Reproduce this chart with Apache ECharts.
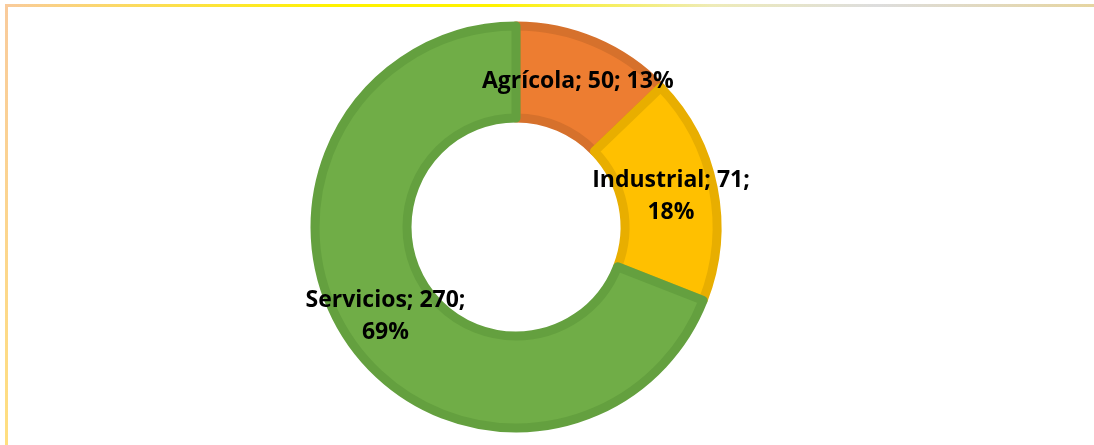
<!doctype html>
<html>
<head>
<meta charset="utf-8">
<title>Sectores</title>
<script src="https://cdn.jsdelivr.net/npm/echarts@6/dist/echarts.min.js"></script>
<style>
  html, body { margin: 0; padding: 0; background: #fff; }
</style>
</head>
<body>
<div id="JS_chart" style="width:1094px;height:445px;"></div>
<script type="text/javascript">
var sectores = ['Agrícola', 'Industrial', 'Servicios'];
var valores = [50, 71, 270];
var rellenos = ['#ED7D31', '#FFC000', '#70AD47'];
var bordes = ['#D6712C', '#E8AE00', '#64A03F'];
// separador entre valor y porcentaje (la etiqueta se parte en dos líneas)
var separadores = [' ', '\n', '\n'];

var myChart = echarts.init(document.getElementById('JS_chart'));

var option = {
    animation: false,
    graphic: [
        {
            type: 'rect',
            shape: { x: 5, y: 4, width: 1089, height: 3 },
            style: {
                fill: new echarts.graphic.LinearGradient(0, 0, 1, 0, [
                    { offset: 0, color: '#F9CB9C' },
                    { offset: 0.3, color: '#FFF200' },
                    { offset: 0.45, color: '#FFF200' },
                    { offset: 0.65, color: '#EEEBB8' },
                    { offset: 0.8, color: '#DDDDDD' },
                    { offset: 1, color: '#E6D5A0' }
                ])
            },
            silent: true
        },
        {
            type: 'rect',
            shape: { x: 5, y: 4, width: 3, height: 441 },
            style: {
                fill: new echarts.graphic.LinearGradient(0, 0, 0, 1, [
                    { offset: 0, color: '#F9CB9C' },
                    { offset: 1, color: '#FFDF80' }
                ])
            },
            silent: true
        }
    ],
    series: [
        {
            type: 'pie',
            center: [516, 227],
            radius: [109, 201],
            startAngle: 90,
            clockwise: true,
            label: {
                show: true,
                position: 'inside',
                color: '#000',
                fontFamily: 'Open Sans',
                fontWeight: 'bold',
                fontSize: 23,
                lineHeight: 32,
                formatter: function (p) {
                    return p.name + '; ' + p.value + ';' + separadores[p.dataIndex] + Math.round(p.percent) + '%';
                }
            },
            labelLine: { show: false },
            emphasis: { disabled: true },
            data: sectores.map(function (s, i) {
                return {
                    name: s,
                    value: valores[i],
                    itemStyle: { color: rellenos[i], borderColor: bordes[i], borderWidth: 9 }
                };
            })
        }
    ]
};
myChart.setOption(option);
</script>
</body>
</html>
